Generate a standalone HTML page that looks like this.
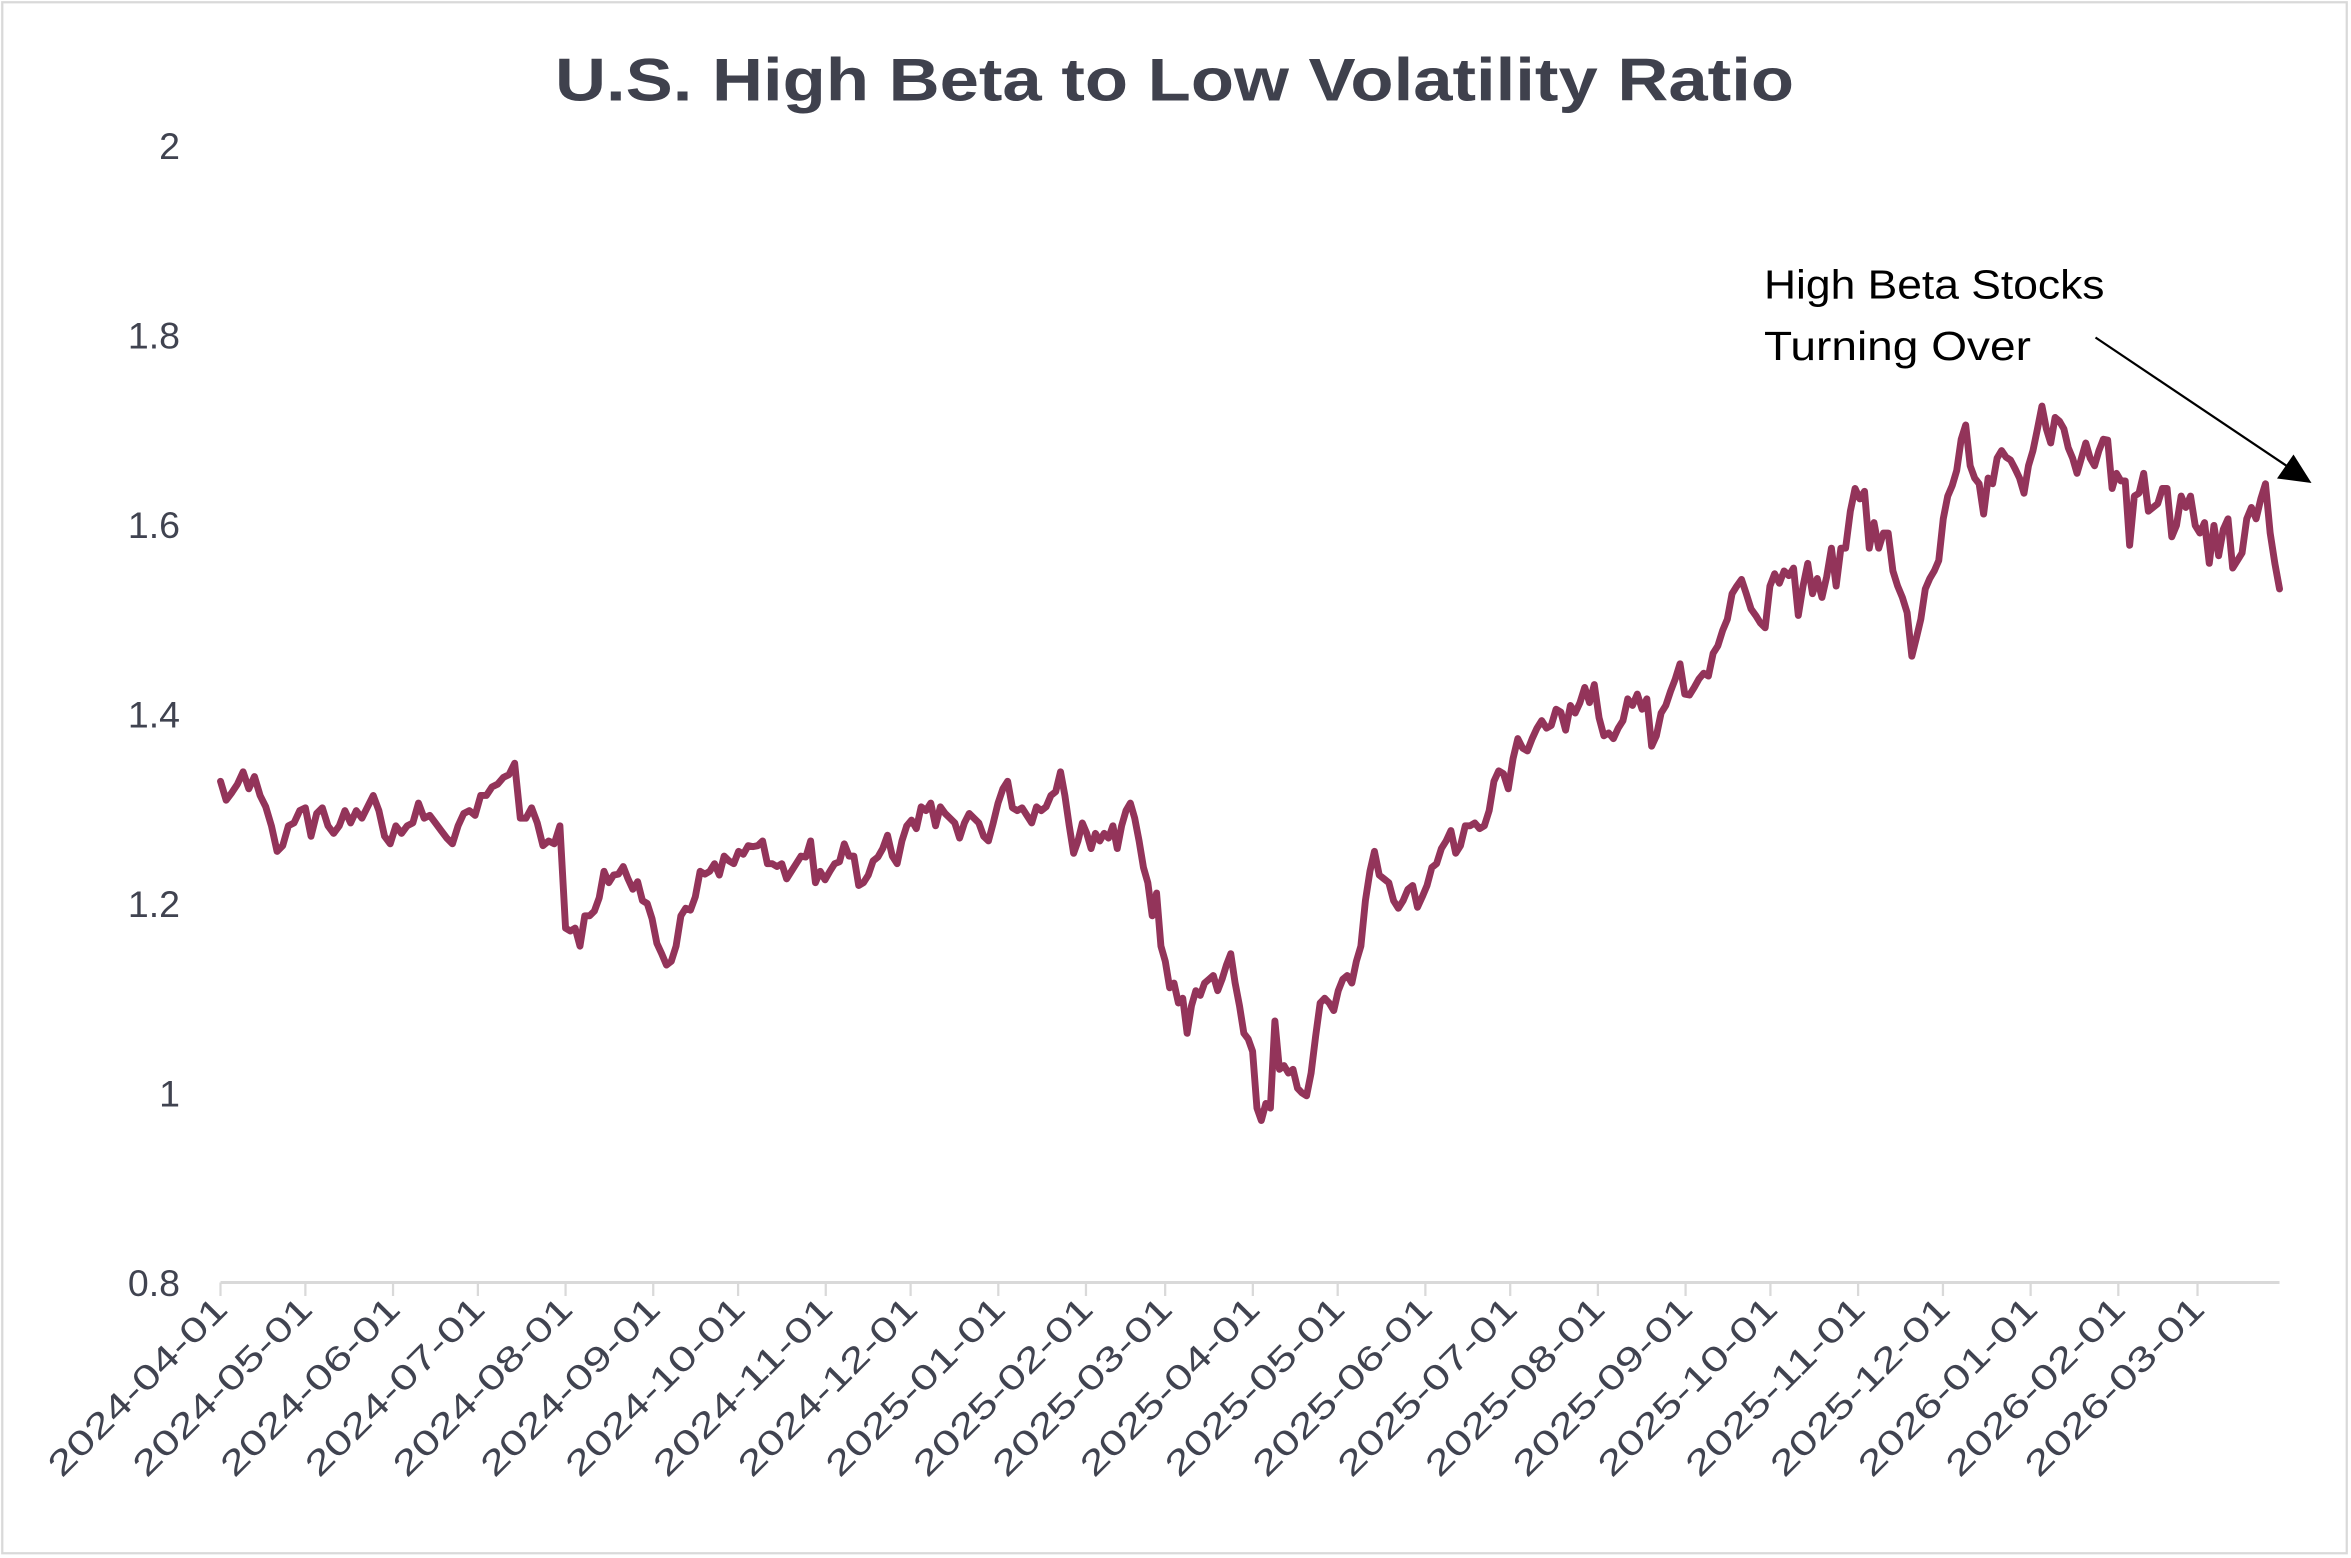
<!DOCTYPE html>
<html><head><meta charset="utf-8"><style>
html,body{margin:0;padding:0;background:#fff;width:2351px;height:1558px;overflow:hidden}
svg{display:block}
</style></head><body>
<svg id="chart" width="2351" height="1558" viewBox="0 0 1567.33 1038.67" preserveAspectRatio="none" xmlns="http://www.w3.org/2000/svg">
<rect x="1.5" y="1.5" width="1563" height="1034" fill="#fff" stroke="#d9d9d9" stroke-width="1.5"/>
<text x="783" y="67" text-anchor="middle" font-family="Liberation Sans, sans-serif" font-weight="bold" font-size="40" fill="#3f414d" textLength="826" lengthAdjust="spacingAndGlyphs">U.S. High Beta to Low Volatility Ratio</text>
<g id="yaxis"></g>
<g id="xaxis"></g>
<g id="series"></g>
<text x="1176" y="199" font-family="Liberation Sans, sans-serif" font-size="27" fill="#000" textLength="227" lengthAdjust="spacingAndGlyphs">High Beta Stocks</text>
<text x="1176" y="240" font-family="Liberation Sans, sans-serif" font-size="27" fill="#000" textLength="178" lengthAdjust="spacingAndGlyphs">Turning Over</text>
<line x1="1397" y1="225" x2="1525" y2="311" stroke="#000" stroke-width="1.5"/>
<polygon points="1541,322 1518,319 1529,303" fill="#000"/>
</svg>
<script>
const yTicks = [0.8, 1.0, 1.2, 1.4, 1.6, 1.8, 2.0];
const yTickLabels = ["0.8", "1", "1.2", "1.4", "1.6", "1.8", "2"];
const xTickDates = ["2024-04-01","2024-05-01","2024-06-01","2024-07-01","2024-08-01","2024-09-01","2024-10-01","2024-11-01","2024-12-01","2025-01-01","2025-02-01","2025-03-01","2025-04-01","2025-05-01","2025-06-01","2025-07-01","2025-08-01","2025-09-01","2025-10-01","2025-11-01","2025-12-01","2026-01-01","2026-02-01","2026-03-01"];
const anchorIndex = [0, 61, 164, 210, 235, 293, 348, 377, 397, 429];
const anchorDate = ["2024-04-01","2024-08-01","2025-01-23","2025-04-04","2025-05-14","2025-08-20","2025-11-20","2026-01-05","2026-02-05","2026-03-30"];
const ratioValues = [1.329,1.309,1.317,1.326,1.339,1.321,1.334,1.314,1.302,1.282,1.255,1.261,1.282,1.285,1.298,1.301,1.271,1.295,1.301,1.282,1.274,1.282,1.298,1.285,1.298,1.290,1.302,1.314,1.298,1.271,1.263,1.282,1.274,1.282,1.285,1.306,1.290,1.293,1.285,1.277,1.269,1.263,1.282,1.295,1.298,1.293,1.314,1.314,1.323,1.326,1.333,1.336,1.348,1.290,1.290,1.301,1.285,1.261,1.266,1.263,1.282,1.174,1.171,1.174,1.155,1.187,1.187,1.192,1.206,1.234,1.222,1.230,1.231,1.239,1.226,1.215,1.223,1.203,1.200,1.184,1.158,1.147,1.135,1.139,1.155,1.187,1.195,1.193,1.207,1.234,1.231,1.234,1.242,1.230,1.250,1.245,1.242,1.255,1.252,1.261,1.260,1.261,1.266,1.242,1.242,1.239,1.242,1.226,1.234,1.242,1.250,1.249,1.266,1.222,1.234,1.225,1.234,1.242,1.244,1.263,1.250,1.250,1.219,1.222,1.230,1.245,1.249,1.258,1.272,1.250,1.242,1.266,1.282,1.288,1.279,1.302,1.298,1.306,1.282,1.302,1.295,1.290,1.285,1.269,1.285,1.295,1.290,1.285,1.271,1.266,1.285,1.306,1.321,1.329,1.301,1.298,1.301,1.293,1.285,1.302,1.298,1.302,1.314,1.318,1.339,1.314,1.282,1.253,1.266,1.285,1.274,1.258,1.274,1.266,1.274,1.269,1.282,1.258,1.282,1.298,1.306,1.290,1.266,1.238,1.222,1.187,1.211,1.155,1.139,1.111,1.116,1.095,1.100,1.063,1.092,1.108,1.103,1.116,1.120,1.124,1.108,1.120,1.135,1.147,1.116,1.092,1.063,1.057,1.044,0.984,0.971,0.989,0.984,1.076,1.025,1.029,1.021,1.025,1.005,1.000,0.997,1.021,1.060,1.095,1.100,1.095,1.087,1.108,1.120,1.124,1.116,1.139,1.155,1.203,1.234,1.255,1.230,1.226,1.222,1.203,1.195,1.203,1.215,1.219,1.196,1.207,1.219,1.238,1.242,1.258,1.266,1.277,1.253,1.261,1.282,1.282,1.285,1.279,1.282,1.298,1.329,1.340,1.337,1.321,1.353,1.374,1.364,1.361,1.374,1.385,1.393,1.385,1.388,1.405,1.402,1.383,1.409,1.401,1.412,1.428,1.412,1.431,1.396,1.377,1.380,1.374,1.385,1.393,1.416,1.409,1.421,1.405,1.416,1.366,1.377,1.401,1.409,1.424,1.437,1.453,1.421,1.420,1.428,1.437,1.443,1.440,1.464,1.472,1.488,1.500,1.527,1.535,1.542,1.527,1.511,1.504,1.496,1.491,1.535,1.548,1.538,1.551,1.546,1.554,1.504,1.535,1.559,1.527,1.543,1.523,1.545,1.575,1.535,1.575,1.575,1.614,1.638,1.627,1.635,1.575,1.602,1.575,1.591,1.591,1.551,1.535,1.523,1.507,1.461,1.480,1.500,1.532,1.543,1.551,1.562,1.606,1.630,1.641,1.657,1.690,1.705,1.662,1.649,1.643,1.611,1.649,1.643,1.670,1.678,1.671,1.668,1.659,1.649,1.633,1.662,1.678,1.701,1.725,1.701,1.686,1.713,1.709,1.701,1.681,1.670,1.654,1.670,1.686,1.670,1.662,1.678,1.690,1.689,1.638,1.654,1.646,1.646,1.578,1.630,1.633,1.654,1.614,1.618,1.622,1.638,1.638,1.587,1.599,1.630,1.618,1.630,1.599,1.591,1.602,1.559,1.599,1.567,1.595,1.606,1.554,1.562,1.570,1.606,1.618,1.606,1.627,1.643,1.591,1.559,1.532];

const NS = "http://www.w3.org/2000/svg";
const DAY = 86400000;
const t0 = Date.parse(xTickDates[0]);
const PX_PER_DAY = (1465 - 147) / ((Date.parse("2026-03-01") - t0) / DAY);
function xScale(dateStr){ return 147 + ((Date.parse(dateStr) - t0) / DAY) * PX_PER_DAY; }
function xScaleT(t){ return 147 + ((t - t0) / DAY) * PX_PER_DAY; }
function yScale(v){ return 855 - (v - 0.8) / 1.2 * 758; }
function timeOfIndex(i){
  for (let k = 0; k < anchorIndex.length - 1; k++){
    if (i <= anchorIndex[k+1]){
      const a = Date.parse(anchorDate[k]), b = Date.parse(anchorDate[k+1]);
      const f = (i - anchorIndex[k]) / (anchorIndex[k+1] - anchorIndex[k]);
      return a + (b - a) * f;
    }
  }
  return Date.parse(anchorDate[anchorDate.length-1]);
}

const yaxis = document.getElementById('yaxis');
yTicks.forEach(function(v, i){
  const t = document.createElementNS(NS, 'text');
  
  
  t.setAttribute('x', 120);
  t.setAttribute('y', yScale(v) + 9);
  t.setAttribute('text-anchor', 'end');
  t.setAttribute('font-family', 'Liberation Sans, sans-serif');
  t.setAttribute('font-size', '25');
  t.setAttribute('fill', '#404350');
  t.textContent = yTickLabels[i];
  yaxis.appendChild(t);
});

const xaxis = document.getElementById('xaxis');
const axisEnd = xScale(anchorDate[anchorDate.length-1]);
const base = document.createElementNS(NS, 'line');


base.setAttribute('x1', 147); base.setAttribute('x2', axisEnd);
base.setAttribute('y1', 855); base.setAttribute('y2', 855);
base.setAttribute('stroke', '#d9d9d9'); base.setAttribute('stroke-width', '2');
xaxis.appendChild(base);
xTickDates.forEach(function(d){
  const x = xScale(d);
  const tk = document.createElementNS(NS, 'line');
  
  
  tk.setAttribute('x1', x); tk.setAttribute('x2', x);
  tk.setAttribute('y1', 855); tk.setAttribute('y2', 864);
  tk.setAttribute('stroke', '#d9d9d9'); tk.setAttribute('stroke-width', '1.5');
  xaxis.appendChild(tk);
  const t = document.createElementNS(NS, 'text');
  
  
  t.setAttribute('transform', 'translate(' + (x + 6) + ',874) rotate(-45)');
  t.setAttribute('text-anchor', 'end');
  t.setAttribute('font-family', 'Liberation Sans, sans-serif');
  t.setAttribute('font-size', '23');
  t.setAttribute('fill', '#404350');
  t.setAttribute('textLength', '158');
  t.setAttribute('lengthAdjust', 'spacingAndGlyphs');
  t.textContent = d;
  xaxis.appendChild(t);
});

const series = document.getElementById('series');
let dstr = '';
ratioValues.forEach(function(v, i){
  dstr += (i ? 'L' : 'M') + xScaleT(timeOfIndex(i)).toFixed(2) + ',' + yScale(v).toFixed(2);
});
const path = document.createElementNS(NS, 'path');


path.setAttribute('d', dstr);
path.setAttribute('fill', 'none');
path.setAttribute('stroke', '#93345a');
path.setAttribute('stroke-width', '4.6');
path.setAttribute('stroke-linejoin', 'round');
path.setAttribute('stroke-linecap', 'round');
series.appendChild(path);
</script>
</body></html>
